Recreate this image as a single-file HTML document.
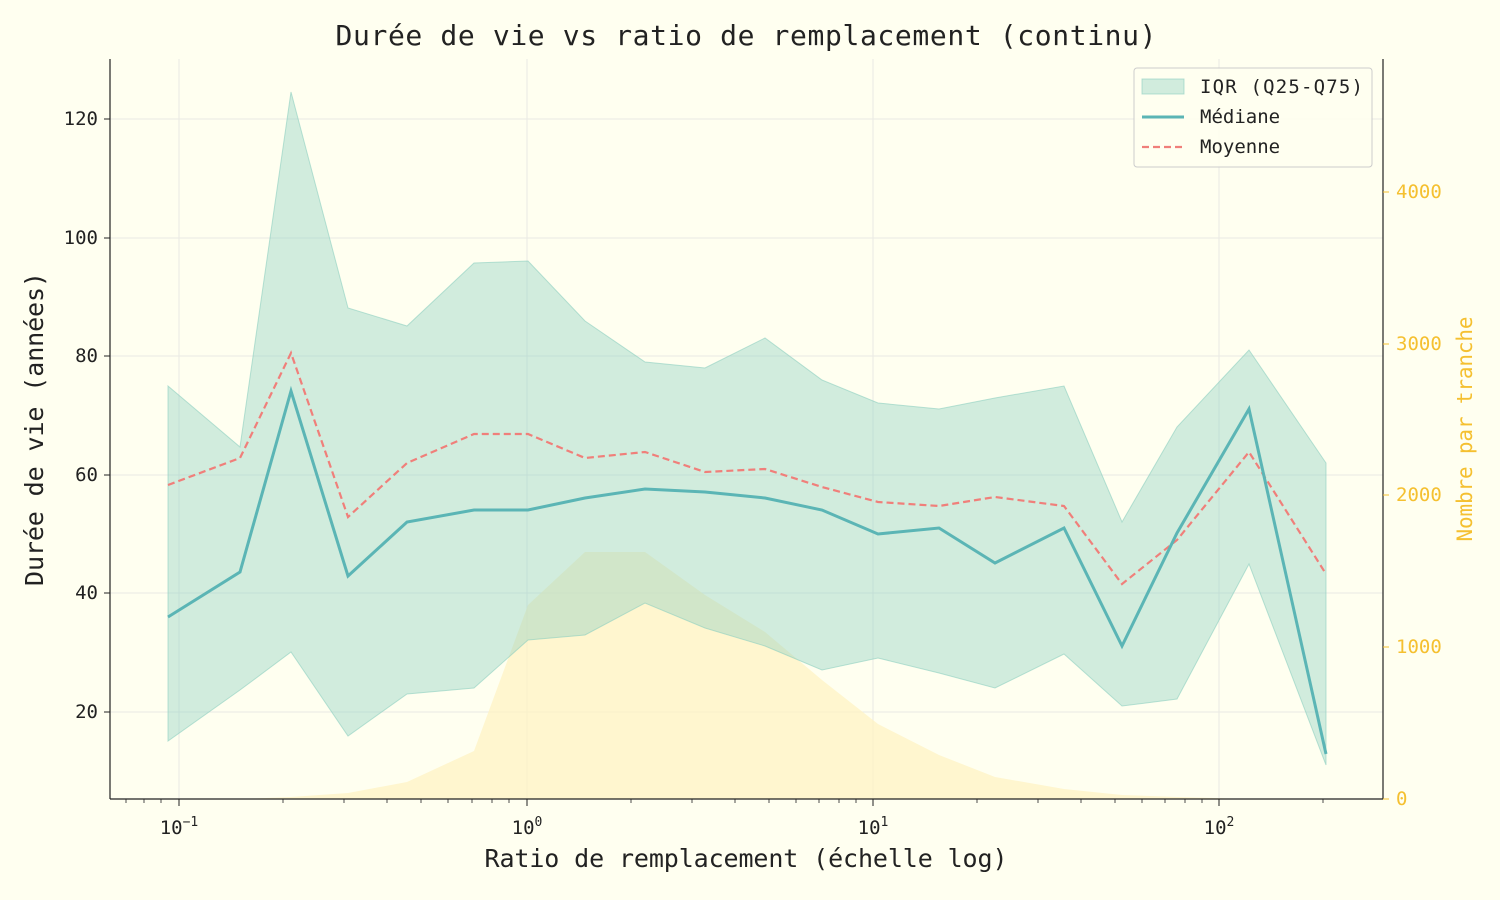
<!DOCTYPE html>
<html><head><meta charset="utf-8"><style>
html,body{margin:0;padding:0;background:#fffff0;}
svg{display:block;font-family:"DejaVu Sans Mono","Liberation Mono",monospace;}
</style></head><body>
<svg width="1500" height="900" viewBox="0 0 1500 900" xmlns="http://www.w3.org/2000/svg">
<rect width="1500" height="900" fill="#fffff0"/>
<g stroke="#ddd" stroke-width="1" opacity="0.6">
<line x1="179" y1="59" x2="179" y2="799"/><line x1="527" y1="59" x2="527" y2="799"/>
<line x1="873" y1="59" x2="873" y2="799"/><line x1="1219" y1="59" x2="1219" y2="799"/>
<line x1="110" y1="712" x2="1383" y2="712"/><line x1="110" y1="593" x2="1383" y2="593"/>
<line x1="110" y1="475" x2="1383" y2="475"/><line x1="110" y1="356" x2="1383" y2="356"/>
<line x1="110" y1="238" x2="1383" y2="238"/><line x1="110" y1="119" x2="1383" y2="119"/>
</g>
<polygon fill="#fff2c0" opacity="0.7" points="168,799 240,799 291,797 348,793 407,782 474,751 528,605 585,552 645,552 705,595 765,632 822,680 878,724 939,755 995,777 1064,789 1122,795 1177,797 1249,799 1326,799 1326,799 168,799"/>
<polygon fill="#8ccfc0" fill-opacity="0.4" stroke="#8ccfc0" stroke-opacity="0.6" points="168,386 240,447 291,92 348,308 407,326 474,263 528,261 585,321 645,362 705,368 765,338 822,380 878,403 939,409 995,398 1064,386 1122,522 1177,427 1249,350 1326,463 1326,765 1249,564 1177,699 1122,706 1064,654 995,688 939,673 878,658 822,670 765,646 705,628 645,603 585,635 528,640 474,688 407,694 348,736 291,652 240,690 168,741"/>
<polyline fill="none" stroke="#f07f7a" stroke-width="2.2" stroke-dasharray="7,4" points="168,485 240,458 291,353 348,517 407,463 474,434 528,434 585,458 645,452 705,472 765,469 822,487 878,502 939,506 995,497 1064,506 1122,584 1177,540 1249,452 1326,574"/>
<polyline fill="none" stroke="#5bb5b5" stroke-width="3" points="168,617 240,572 291,391 348,576 407,522 474,510 528,510 585,498 645,489 705,492 765,498 822,510 878,534 939,528 995,563 1064,528 1122,646 1177,533 1249,409 1326,754"/>
<g stroke="#222" stroke-width="1.2" fill="none">
<line x1="110" y1="59" x2="110" y2="799"/><line x1="110" y1="799" x2="1383" y2="799"/>
<line x1="1383" y1="59" x2="1383" y2="799"/>
</g>
<g stroke="#222" stroke-width="1">
<line x1="104" y1="712" x2="110" y2="712"/><line x1="104" y1="593" x2="110" y2="593"/>
<line x1="104" y1="475" x2="110" y2="475"/><line x1="104" y1="356" x2="110" y2="356"/>
<line x1="104" y1="238" x2="110" y2="238"/><line x1="104" y1="119" x2="110" y2="119"/>
<line x1="179" y1="799" x2="179" y2="806"/><line x1="527" y1="799" x2="527" y2="806"/>
<line x1="873" y1="799" x2="873" y2="806"/><line x1="1219" y1="799" x2="1219" y2="806"/>
</g>
<g stroke="#222" stroke-width="0.8">
<line x1="126" y1="799" x2="126" y2="803"/><line x1="144" y1="799" x2="144" y2="803"/><line x1="161" y1="799" x2="161" y2="803"/>
<line x1="283" y1="799" x2="283" y2="803"/><line x1="344" y1="799" x2="344" y2="803"/><line x1="387" y1="799" x2="387" y2="803"/><line x1="421" y1="799" x2="421" y2="803"/><line x1="448" y1="799" x2="448" y2="803"/><line x1="472" y1="799" x2="472" y2="803"/><line x1="492" y1="799" x2="492" y2="803"/><line x1="509" y1="799" x2="509" y2="803"/>
<line x1="631" y1="799" x2="631" y2="803"/><line x1="692" y1="799" x2="692" y2="803"/><line x1="735" y1="799" x2="735" y2="803"/><line x1="769" y1="799" x2="769" y2="803"/><line x1="796" y1="799" x2="796" y2="803"/><line x1="819" y1="799" x2="819" y2="803"/><line x1="839" y1="799" x2="839" y2="803"/><line x1="856" y1="799" x2="856" y2="803"/>
<line x1="977" y1="799" x2="977" y2="803"/><line x1="1038" y1="799" x2="1038" y2="803"/><line x1="1081" y1="799" x2="1081" y2="803"/><line x1="1115" y1="799" x2="1115" y2="803"/><line x1="1142" y1="799" x2="1142" y2="803"/><line x1="1165" y1="799" x2="1165" y2="803"/><line x1="1185" y1="799" x2="1185" y2="803"/><line x1="1202" y1="799" x2="1202" y2="803"/>
<line x1="1323" y1="799" x2="1323" y2="803"/>
</g>
<g stroke="#f5c030" stroke-width="1">
<line x1="1383" y1="799" x2="1389" y2="799"/><line x1="1383" y1="647" x2="1389" y2="647"/><line x1="1383" y1="495" x2="1389" y2="495"/><line x1="1383" y1="344" x2="1389" y2="344"/><line x1="1383" y1="192" x2="1389" y2="192"/>
</g>
<g font-size="19" fill="#222" text-anchor="end">
<text x="98" y="718">20</text><text x="98" y="599">40</text><text x="98" y="481">60</text><text x="98" y="362">80</text><text x="98" y="244">100</text><text x="98" y="125">120</text>
</g>
<g font-size="19" fill="#222" text-anchor="middle">
<text x="179" y="834">10<tspan font-size="13" dy="-8">−1</tspan></text>
<text x="527" y="834">10<tspan font-size="13" dy="-8">0</tspan></text>
<text x="873" y="834">10<tspan font-size="13" dy="-8">1</tspan></text>
<text x="1219" y="834">10<tspan font-size="13" dy="-8">2</tspan></text>
</g>
<g font-size="19" fill="#f5c030">
<text x="1396" y="805">0</text><text x="1396" y="653">1000</text><text x="1396" y="501">2000</text><text x="1396" y="350">3000</text><text x="1396" y="198">4000</text>
</g>
<text x="746" y="867" font-size="25" fill="#222" text-anchor="middle" textLength="523">Ratio de remplacement (échelle log)</text>
<text transform="translate(43,429) rotate(-90)" font-size="25" fill="#222" text-anchor="middle" textLength="314">Durée de vie (années)</text>
<text transform="translate(1472,429) rotate(-90)" font-size="21" fill="#f5c030" text-anchor="middle" textLength="225">Nombre par tranche</text>
<text x="746" y="45" font-size="28" fill="#222" text-anchor="middle" textLength="821">Durée de vie vs ratio de remplacement (continu)</text>
<rect x="1134" y="68" width="238" height="99" rx="3" fill="#fffff0" fill-opacity="0.85" stroke="#ccc"/>
<rect x="1142" y="79" width="42" height="15" fill="#8ccfc0" fill-opacity="0.4" stroke="#8ccfc0" stroke-opacity="0.6"/>
<line x1="1142" y1="117" x2="1184" y2="117" stroke="#5bb5b5" stroke-width="3"/>
<line x1="1142" y1="147" x2="1184" y2="147" stroke="#f07f7a" stroke-width="2.2" stroke-dasharray="7,4"/>
<g font-size="19" fill="#222">
<text x="1200" y="93" textLength="163">IQR (Q25-Q75)</text><text x="1200" y="123">Médiane</text><text x="1200" y="153">Moyenne</text>
</g>
</svg>
</body></html>
